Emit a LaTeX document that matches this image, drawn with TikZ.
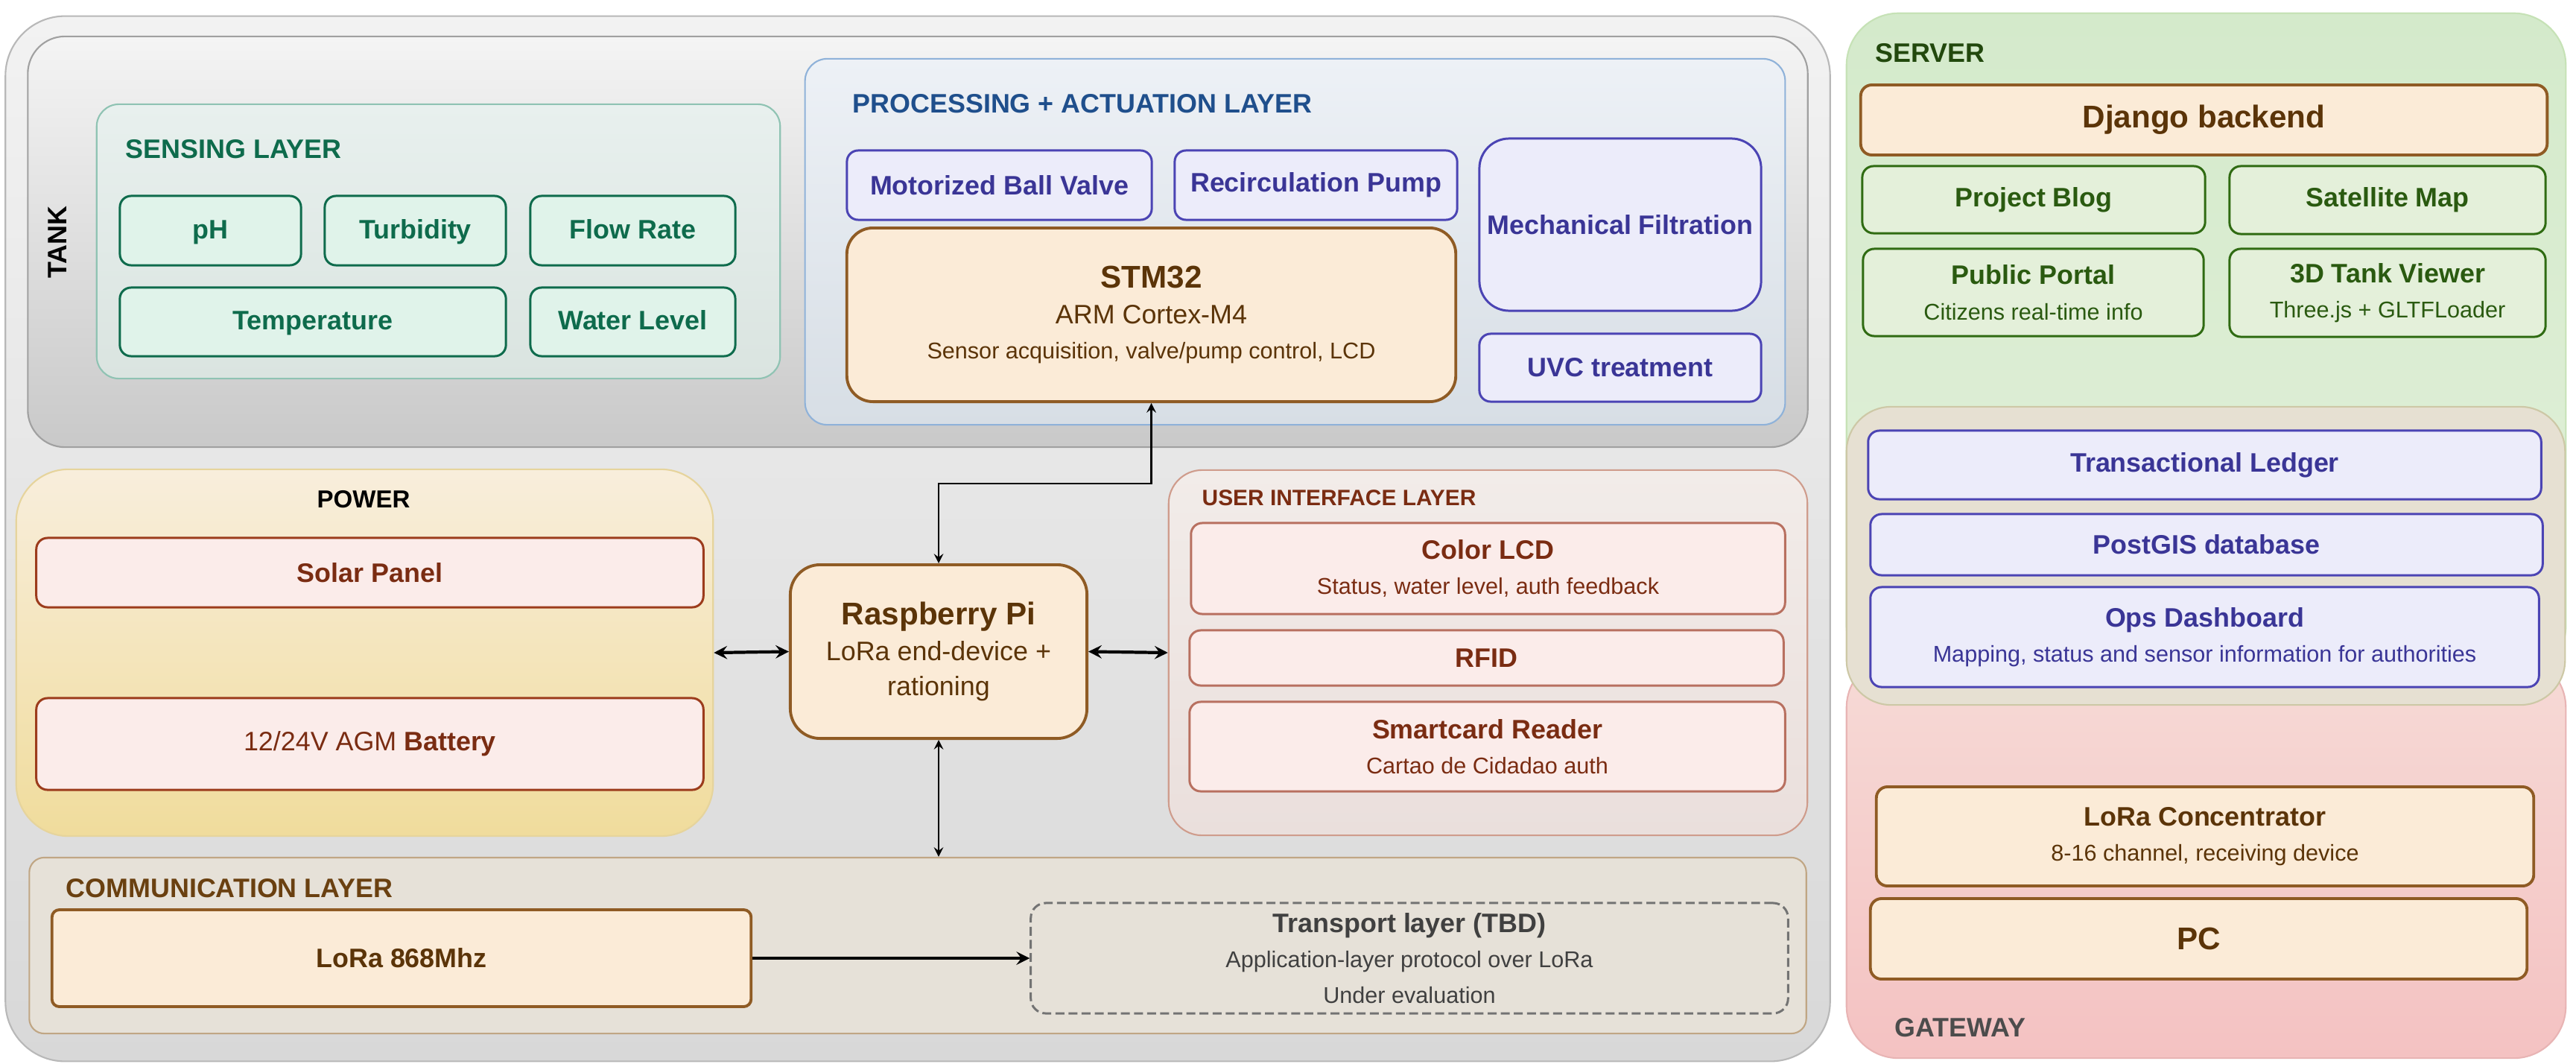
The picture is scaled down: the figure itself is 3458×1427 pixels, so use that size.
\documentclass[tikz,border=0pt]{standalone}
\usepackage{fontspec}
\setmainfont{Liberation Sans}
\usepackage{tikz}
\usetikzlibrary{arrows,positioning,calc,shapes}
\tikzset{>=stealth}

\newcommand{\ftitle}{\fontsize{10.2}{13.5}\selectfont}
\newcommand{\fsub}{\fontsize{8.7}{13.5}\selectfont}
\newcommand{\fbig}{\fontsize{12}{13.5}\selectfont}

\definecolor{outerline}{HTML}{B8B8B8}
\definecolor{outertop}{HTML}{F2F2F2}
\definecolor{outerbot}{HTML}{D8D8D8}
\definecolor{tankline}{HTML}{A0A0A0}
\definecolor{tanktop}{HTML}{F4F4F4}
\definecolor{tankbot}{HTML}{C9C9C9}
\definecolor{sensline}{HTML}{8FC3B3}
\definecolor{senstop}{HTML}{E8F0EE}
\definecolor{sensbot}{HTML}{DAE4E0}
\definecolor{sensfill}{HTML}{E0F3EA}
\definecolor{sensdark}{HTML}{0E6B4C}
\definecolor{procline}{HTML}{8FB2D9}
\definecolor{proctop}{HTML}{EDF1F6}
\definecolor{procbot}{HTML}{D7DEE5}
\definecolor{proctext}{HTML}{1F4F8C}
\definecolor{actfill}{HTML}{ECECFA}
\definecolor{actline}{HTML}{4B44B4}
\definecolor{acttext}{HTML}{3A3596}
\definecolor{corefill}{HTML}{FBEBD7}
\definecolor{coreline}{HTML}{8F5B24}
\definecolor{coretext}{HTML}{5B3408}
\definecolor{powline}{HTML}{E6D49C}
\definecolor{powtop}{HTML}{F8EEDC}
\definecolor{powbot}{HTML}{F0DC9C}
\definecolor{redfill}{HTML}{FBECEA}
\definecolor{redline}{HTML}{9C3C1C}
\definecolor{redtext}{HTML}{7A2C12}
\definecolor{uiline}{HTML}{CF9C8C}
\definecolor{uitop}{HTML}{F2ECE9}
\definecolor{uibot}{HTML}{EADFDC}
\definecolor{uiitem}{HTML}{B87060}
\definecolor{commline}{HTML}{C0A684}
\definecolor{commfill}{HTML}{E6E1D8}
\definecolor{commtext}{HTML}{6A4010}
\definecolor{srvline}{HTML}{C6E2B6}
\definecolor{srvtop}{HTML}{D4EACB}
\definecolor{srvbot}{HTML}{E2F0DA}
\definecolor{webfill}{HTML}{E4F0DA}
\definecolor{webline}{HTML}{2F6B12}
\definecolor{webtext}{HTML}{2A5A10}
\definecolor{ledgline}{HTML}{CDC8A6}
\definecolor{ledgfill}{HTML}{E6E0D2}
\definecolor{gateline}{HTML}{E8B4B4}
\definecolor{gatetop}{HTML}{F6DAD6}
\definecolor{gatebot}{HTML}{F4C2C2}

\tikzset{
  blockbox/.style={draw, rectangle, inner sep=0pt, align=center},
  groupbox/.style={blockbox, line width=0.6pt},
  layertitle/.style={anchor=west, inner sep=0pt, font=\ftitle\bfseries},
  sensorbox/.style={blockbox, rounded corners=0.15cm, line width=0.85pt, fill=sensfill, draw=sensdark, text=sensdark, font=\ftitle\bfseries, text height=1.5ex, text depth=0.35ex},
  actbox/.style={blockbox, rounded corners=0.15cm, line width=0.85pt, fill=actfill, draw=actline, text=acttext, font=\ftitle\bfseries},
  corebox/.style={blockbox, line width=1.1pt, fill=corefill, draw=coreline, text=coretext, font=\ftitle},
  powerbox/.style={blockbox, rounded corners=0.15cm, line width=0.85pt, fill=redfill, draw=redline, text=redtext, font=\ftitle\bfseries},
  uibox/.style={blockbox, rounded corners=0.15cm, line width=0.85pt, fill=redfill, draw=uiitem, text=redtext, font=\ftitle\bfseries},
  webbox/.style={blockbox, rounded corners=0.15cm, line width=0.85pt, fill=webfill, draw=webline, text=webtext, font=\ftitle\bfseries}
}

\begin{document}
\begin{tikzpicture}[x=0.01cm, y=-0.01cm]
\useasboundingbox (0,0) rectangle (3458,1427);
\fill[white] (0,0) rectangle (3458,1427);

% tank side
\node[groupbox, rounded corners=0.8cm, draw=outerline, top color=outertop, bottom color=outerbot, minimum width=24.48cm, minimum height=14.02cm] (site) at (1232,723) {};
\node[groupbox, rounded corners=0.5cm, draw=tankline, top color=tanktop, bottom color=tankbot, minimum width=23.88cm, minimum height=5.51cm] (tank) at (1232,324.5) {};
\node[rotate=90, inner sep=0pt, font=\ftitle\bfseries] (tanklbl) at (77,325) {TANK};

\node[groupbox, rounded corners=0.3cm, draw=sensline, top color=senstop, bottom color=sensbot, minimum width=9.17cm, minimum height=3.68cm] (sensing) at (588.5,324) {};
\node[layertitle, text=sensdark] (sensinglbl) at (168,200) {SENSING LAYER};
\node[sensorbox, minimum width=2.43cm, minimum height=0.93cm] (ph) at (282.5,309.5) {pH};
\node[sensorbox, minimum width=2.43cm, minimum height=0.93cm] (turb) at (557.5,309.5) {Turbidity};
\node[sensorbox, minimum width=2.75cm, minimum height=0.93cm] (flow) at (849.5,309.5) {Flow Rate};
\node[sensorbox, minimum width=5.18cm, minimum height=0.92cm] (temp) at (420,432) {Temperature};
\node[sensorbox, minimum width=2.75cm, minimum height=0.92cm] (level) at (849.5,432) {Water Level};

\node[groupbox, rounded corners=0.3cm, draw=procline, top color=proctop, bottom color=procbot, minimum width=13.15cm, minimum height=4.91cm] (proc) at (1738.5,324.5) {};
\node[layertitle, text=proctext] (proclbl) at (1144,139) {PROCESSING + ACTUATION LAYER};
\node[actbox, minimum width=4.09cm, minimum height=0.93cm] (valve) at (1341.5,248.5) {Motorized Ball Valve};
\node[actbox, minimum width=3.79cm, minimum height=0.93cm] (pump) at (1766.5,248.5) {Recirculation Pump};
\node[actbox, rounded corners=0.4cm, minimum width=3.78cm, minimum height=2.31cm] (filter) at (2175,301.5) {Mechanical Filtration};
\node[corebox, rounded corners=0.35cm, minimum width=8.17cm, minimum height=2.33cm] (stm) at (1545.5,422.5) {{\fbig\bfseries STM32}\\ARM Cortex-M4\\{\fsub Sensor acquisition, valve/pump control, LCD}};
\node[actbox, minimum width=3.78cm, minimum height=0.91cm] (uvc) at (2175,493.5) {UVC treatment};

\node[groupbox, rounded corners=0.7cm, draw=powline, top color=powtop, bottom color=powbot, minimum width=9.35cm, minimum height=4.92cm] (power) at (489.5,876) {};
\node[inner sep=0pt, font=\fontsize{9.4}{12}\selectfont\bfseries] (powerlbl) at (488,670) {POWER};
\node[powerbox, minimum width=8.95cm, minimum height=0.93cm] (solar) at (496.5,768.5) {Solar Panel};
\node[powerbox, font=\ftitle, minimum width=8.95cm, minimum height=1.23cm] (battery) at (496.5,998.5) {12/24V AGM \textbf{Battery}};

\node[corebox, rounded corners=0.4cm, minimum width=3.98cm, minimum height=2.33cm] (rasp) at (1260,874.5) {{\fbig\bfseries Raspberry Pi}\\LoRa end-device +\\rationing};

\node[groupbox, rounded corners=0.45cm, draw=uiline, top color=uitop, bottom color=uibot, minimum width=8.57cm, minimum height=4.9cm] (ui) at (1997.5,876) {};
\node[layertitle, font=\fontsize{8.5}{12}\selectfont\bfseries, text=redtext] (uilbl) at (1613,668) {USER INTERFACE LAYER};
\node[uibox, minimum width=7.97cm, minimum height=1.22cm] (lcd) at (1997.5,763) {Color LCD\\{\fsub\mdseries Status, water level, auth feedback}};
\node[uibox, minimum width=7.97cm, minimum height=0.74cm] (rfid) at (1995.5,883) {RFID};
\node[uibox, minimum width=7.99cm, minimum height=1.2cm] (card) at (1996.5,1002) {Smartcard Reader\\{\fsub\mdseries Cartao de Cidadao auth}};

\node[groupbox, rounded corners=0.2cm, draw=commline, fill=commfill, minimum width=23.84cm, minimum height=2.36cm] (comm) at (1232,1269) {};
\node[layertitle, text=commtext] (commlbl) at (88,1192) {COMMUNICATION LAYER};
\node[corebox, rounded corners=0.1cm, font=\ftitle\bfseries, minimum width=9.38cm, minimum height=1.3cm] (lora) at (539,1286) {LoRa 868Mhz};
\node[blockbox, dash pattern=on 3.4pt off 1.6pt, rounded corners=0.2cm, line width=0.85pt, draw=black!55, fill=commfill, text=black!75, font=\ftitle\bfseries, minimum width=10.16cm, minimum height=1.48cm] (transport) at (1892,1286) {Transport layer (TBD)\\{\fsub\mdseries Application-layer protocol over LoRa}\\{\fsub\mdseries Under evaluation}};

% server side
\node[groupbox, rounded corners=0.7cm, draw=gateline, top color=gatetop, bottom color=gatebot, minimum width=9.65cm, minimum height=5.4cm] (gateway) at (2961.5,1150) {};
\node[groupbox, rounded corners=0.7cm, draw=srvline, top color=srvtop, bottom color=srvbot, minimum width=9.65cm, minimum height=8.92cm] (server) at (2961.5,464) {};
\node[layertitle, text=webtext!80!black] (serverlbl) at (2517,71) {SERVER};
\node[corebox, rounded corners=0.15cm, font=\fbig\bfseries, minimum width=9.21cm, minimum height=0.94cm] (django) at (2958.5,161) {Django backend};
\node[webbox, minimum width=4.6cm, minimum height=0.9cm] (blog) at (2730,268) {Project Blog};
\node[webbox, minimum width=4.24cm, minimum height=0.91cm] (satmap) at (3205,268.5) {Satellite Map};
\node[webbox, minimum width=4.57cm, minimum height=1.17cm] (portal) at (2729.5,392.5) {Public Portal\\{\fsub\mdseries Citizens real-time info}};
\node[webbox, minimum width=4.24cm, minimum height=1.18cm] (viewer) at (3205,393) {3D Tank Viewer\\{\fsub\mdseries Three.js + GLTFLoader}};

\node[groupbox, rounded corners=0.6cm, draw=ledgline, fill=ledgfill, minimum width=9.64cm, minimum height=4cm] (data) at (2961,746) {};
\node[actbox, minimum width=9.03cm, minimum height=0.92cm] (ledger) at (2959.5,624) {Transactional Ledger};
\node[actbox, minimum width=9.02cm, minimum height=0.82cm] (postgis) at (2962,731) {PostGIS database};
\node[actbox, minimum width=8.97cm, minimum height=1.34cm] (ops) at (2959.5,855) {Ops Dashboard\\{\fsub\mdseries Mapping, status and sensor information for authorities}};

\node[corebox, rounded corners=0.15cm, minimum width=8.82cm, minimum height=1.33cm] (conc) at (2960,1122.5) {{\bfseries LoRa Concentrator}\\{\fsub 8-16 channel, receiving device}};
\node[corebox, rounded corners=0.15cm, font=\fbig\bfseries, minimum width=8.81cm, minimum height=1.08cm] (pc) at (2951.5,1260) {PC};
\node[layertitle, text=black!70] (gatewaylbl) at (2543,1379) {GATEWAY};

\coordinate (stmbend) at (1545.5,649);
\begin{scope}[line width = 1.2pt]
\draw[<->] (power.east) to (rasp.west);
\draw[<->] (rasp.east) to (ui.west);
\draw[->] (lora) to (transport);
\end{scope}
\begin{scope}[line width = 0.6pt]
\draw[<->] (stm.south) -- (stmbend) -| (rasp.north);
\draw[<->] (rasp.south) -- (rasp.south |- comm.north);
\end{scope}
\end{tikzpicture}
\end{document}
